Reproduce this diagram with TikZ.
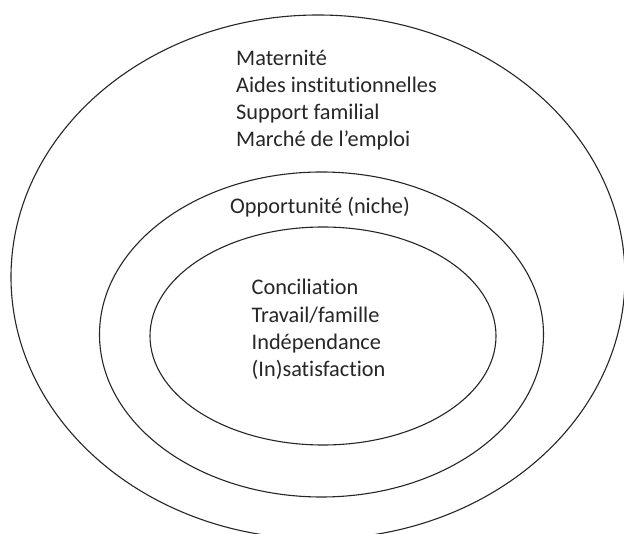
\documentclass[tikz,border=0pt]{standalone}
\usepackage{fontspec}
\setmainfont{Carlito}[Ligatures={NoCommon,NoContextual,NoRare}]
\begin{document}
\begin{tikzpicture}[x=1pt,y=1pt,
  ring/.style={draw=black!85,line width=1.1pt},
  lbl/.style={anchor=base west,inner sep=0pt,font=\fontsize{22.3}{27.2}\selectfont,text=black!85}]
\clip (0,0) rectangle (624,533);
\fill[white] (0,0) rectangle (624,533);
% ellipses
\draw[ring] (318,256) ellipse [x radius=307, y radius=262];
\draw[ring] (321.5,198.5) ellipse [x radius=222, y radius=162.5];
\draw[ring] (323,197) ellipse [x radius=173, y radius=109];
% outer labels
\node[lbl] (o1) at (236,467.7) {Maternité};
\node[lbl] (o2) at (236,440.5) {Aides institutionnelles};
\node[lbl] (o3) at (236,413.4) {Support familial};
\node[lbl] (o4) at (236,386.2) {Marché de l’emploi};
% middle label
\node[lbl] (m1) at (230,319.5) {Opportunité (niche)};
% inner labels
\node[lbl] (i1) at (251.5,238) {Conciliation};
\node[lbl] (i2) at (251.5,210.8) {Travail/famille};
\node[lbl] (i3) at (251.5,183.6) {Indépendance};
\node[lbl] (i4) at (251.5,156.4) {(In)satisfaction};
\end{tikzpicture}
\end{document}
